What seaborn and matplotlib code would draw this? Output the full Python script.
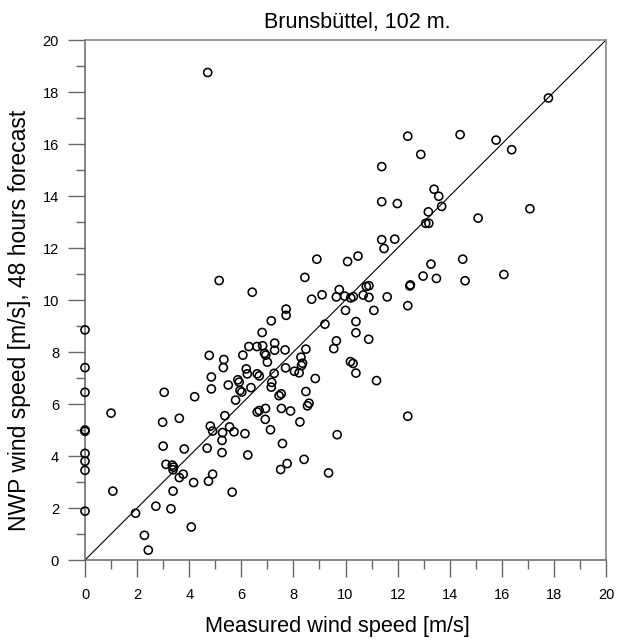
import matplotlib
matplotlib.use("Agg")
import matplotlib.pyplot as plt
from matplotlib.ticker import MultipleLocator
import seaborn as sns
import pandas as pd

# Measured wind speed [m/s]
measured = [
    0, 0, 0, 0, 0, 0, 0, 0, 0,
    1.0, 1.07, 1.94, 2.28, 2.43, 2.72,
    2.98, 3.04, 3.0, 3.11, 3.35, 3.4, 3.38, 3.3, 3.38, 3.62, 3.77, 3.62, 3.81, 4.17, 4.08, 4.21,
    4.71, 4.77, 4.85, 4.85, 4.81, 4.9, 4.69, 4.74, 4.9,
    5.15, 5.33, 5.31, 5.5, 5.37, 5.55, 5.28, 5.26, 5.26, 5.72, 5.65, 5.78, 5.87, 5.92, 5.95, 6.02,
    6.06, 6.19, 6.23, 6.14, 6.25,
    6.29, 6.6, 6.82, 6.42, 6.37, 6.61, 6.69, 6.8, 6.89, 6.94, 7.0, 6.61, 6.69, 6.93, 6.92,
    7.15, 7.28, 7.28, 7.26, 7.17, 7.15, 7.12, 7.45, 7.53, 7.54, 7.58, 7.51, 7.76, 7.72, 7.72,
    7.68, 7.7, 7.89,
    8.04, 8.22, 8.29, 8.35, 8.31, 8.48, 8.48, 8.25, 8.41, 8.6, 8.54, 8.84, 8.44, 8.9, 8.7,
    9.1, 9.21, 9.35, 9.55, 9.65, 9.68, 9.76, 9.65, 9.97, 10.0,
    10.08, 10.48, 10.19, 10.29, 10.4, 10.2, 10.3, 10.4, 10.4, 10.68, 10.9, 10.8, 10.9, 10.89,
    11.09, 11.19,
    11.6, 11.39, 11.39, 11.99, 11.39, 11.48, 11.89, 12.39, 12.89, 12.39, 12.39, 12.47, 12.49,
    12.98,
    13.4, 13.58, 13.69, 13.18, 13.08, 13.2, 13.28, 13.49, 14.4, 14.5, 14.59, 15.09, 15.78,
    16.38, 16.08, 17.08, 17.79,
]

# NWP wind speed [m/s], 48 hours forecast
forecast = [
    8.85, 7.4, 6.45, 5.0, 4.95, 4.1, 3.8, 3.45, 1.88,
    5.65, 2.65, 1.8, 0.95, 0.38, 2.07,
    5.3, 6.45, 4.38, 3.68, 3.65, 3.57, 3.47, 1.97, 2.65, 5.45, 3.3, 3.17, 4.27, 2.98, 1.27, 6.28,
    18.75, 7.87, 7.04, 6.58, 5.15, 4.96, 4.3, 3.03, 3.3,
    10.75, 7.71, 7.4, 6.73, 5.55, 5.12, 4.9, 4.6, 4.13, 4.93, 2.61, 6.15, 6.93, 6.84, 6.52, 6.46,
    7.88, 7.35, 7.16, 4.86, 4.04,
    8.21, 8.21, 8.24, 10.3, 6.63, 7.16, 7.08, 8.75, 7.95, 7.88, 7.61, 5.69, 5.75, 5.83, 5.41,
    9.2, 8.34, 8.07, 7.18, 6.83, 6.65, 5.01, 6.32, 6.39, 5.83, 4.48, 3.48, 3.71, 9.65, 9.41,
    8.08, 7.39, 5.73,
    7.26, 7.2, 7.8, 7.57, 7.48, 8.11, 6.48, 5.31, 3.87, 6.03, 5.93, 6.98, 10.87, 11.57, 10.03,
    10.2, 9.07, 3.35, 8.13, 8.43, 4.82, 10.4, 10.12, 10.15, 9.6,
    11.48, 11.69, 7.63, 7.56, 7.19, 10.08, 10.13, 9.17, 8.74, 10.19, 10.1, 10.52, 10.55, 8.49,
    9.6, 6.9,
    10.12, 15.13, 13.78, 13.71, 12.32, 11.98, 12.34, 16.3, 15.6, 9.78, 5.53, 10.54, 10.58,
    10.92,
    14.26, 13.99, 13.6, 13.39, 12.95, 12.95, 11.38, 10.83, 16.36, 11.57, 10.74, 13.15, 16.15,
    15.78, 10.98, 13.51, 17.77,
]

title = "Brunsbüttel, 102 m."
xlabel = "Measured wind speed [m/s]"
ylabel = "NWP wind speed [m/s], 48 hours forecast"
axis_min, axis_max = 0, 20

df = pd.DataFrame({"measured": measured, "forecast": forecast})

sns.set_theme(style="white")
plt.rcParams["font.family"] = ["Liberation Sans", "DejaVu Sans"]

fig = plt.figure(figsize=(6.25, 6.4), dpi=100)
ax = fig.add_axes([85 / 625, 1 - 560 / 640, 521 / 625, 520 / 640])

sns.scatterplot(data=df, x="measured", y="forecast", ax=ax, marker="o",
                s=34, facecolor="none", edgecolor="black", linewidth=1.15,
                legend=False, zorder=3, clip_on=False)
ax.axline((0, 0), slope=1, color="black", linewidth=0.8, zorder=2)

ax.set_xlim(axis_min, axis_max)
ax.set_ylim(axis_min, axis_max)
ax.xaxis.set_major_locator(MultipleLocator(2))
ax.yaxis.set_major_locator(MultipleLocator(2))
ax.xaxis.set_minor_locator(MultipleLocator(1))
ax.yaxis.set_minor_locator(MultipleLocator(1))

spine_col = "#666666"
for side, sp in ax.spines.items():
    sp.set_color(spine_col if side in ("left", "bottom") else "#808080")
    sp.set_linewidth(1.1)

ax.tick_params(which="major", direction="out", length=12.2, width=1.0,
               color=spine_col, labelsize=10.5, labelcolor="black",
               bottom=True, left=True)
ax.tick_params(axis="x", which="major", pad=8)
ax.tick_params(axis="y", which="major", pad=6.5)
ax.tick_params(which="minor", direction="out", length=6.5, width=1.0,
               color=spine_col, bottom=True, left=True)

ax.set_xlabel(xlabel, fontsize=15.7, color="black")
ax.set_ylabel(ylabel, fontsize=16.5, color="black")
ax.xaxis.set_label_coords((337 - 85) / 521, (560 - 616) / 520)
ax.yaxis.set_label_coords((31 - 85) / 521, (560 - 320) / 520)

ax.set_title(title, fontsize=15.5, x=(357.5 - 85) / 521, pad=8.6, color="black")

fig.savefig("out.png", dpi=100, facecolor="white")
